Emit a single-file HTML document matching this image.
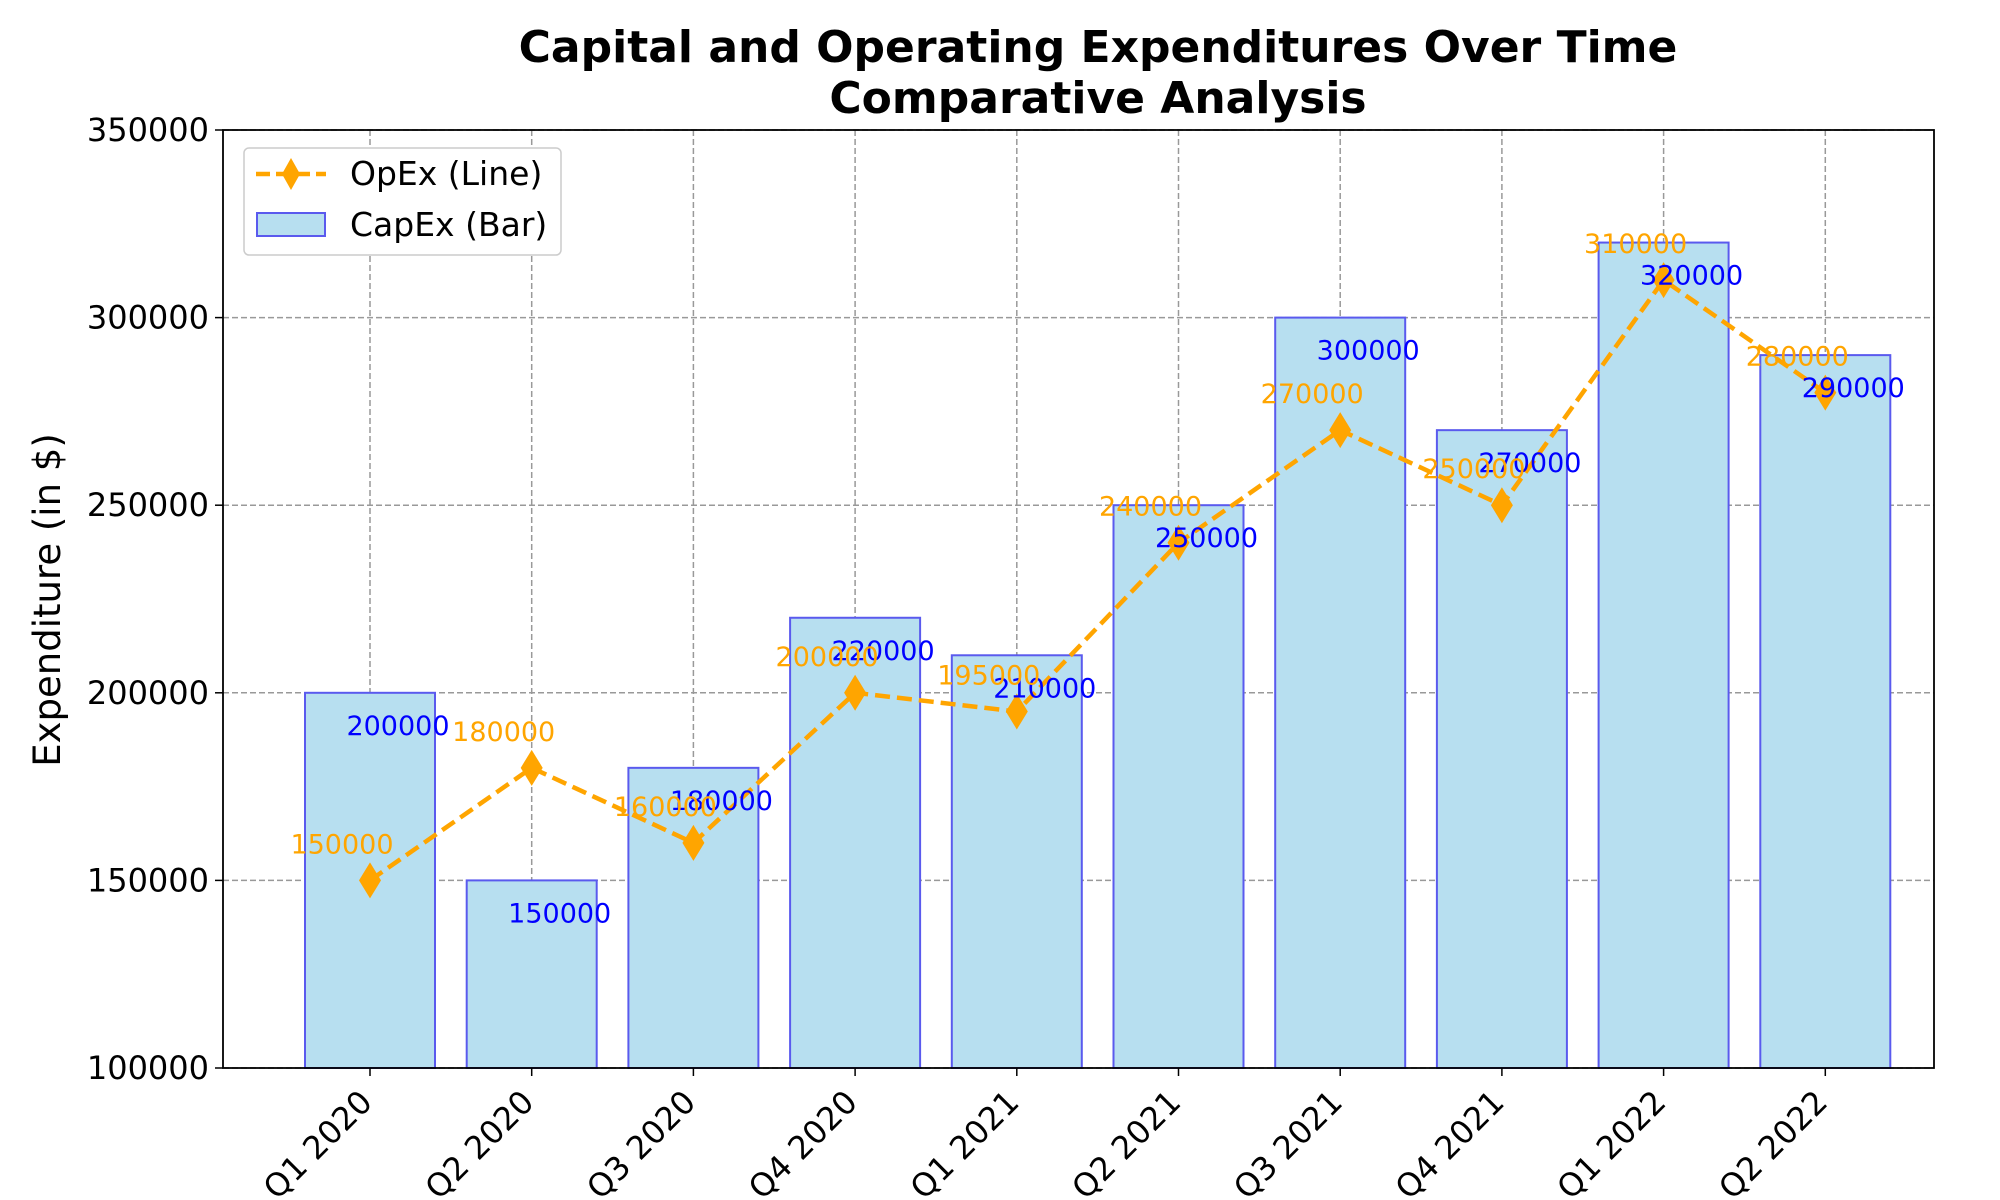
<!DOCTYPE html>
<html><head><meta charset="utf-8"><style>
html,body{margin:0;padding:0;background:#fff}
svg{display:block;font-family:"DejaVu Sans","Liberation Sans",sans-serif}
</style></head><body>
<svg id="chart" width="2000" height="1200" viewBox="0 0 2000 1200">
<text x="1098" y="62" text-anchor="middle" font-size="44" font-weight="bold">Capital and Operating Expenditures Over Time</text>
<text x="1098" y="113" text-anchor="middle" font-size="44" font-weight="bold">Comparative Analysis</text>
<text transform="translate(60,600) rotate(-90)" text-anchor="middle" font-size="37">Expenditure (in $)</text>
<g id="grid"></g><g id="bars"></g><g id="line"></g><g id="labels"></g><g id="axes"></g>
<g>
<rect x="244" y="148" width="317" height="107" rx="5" fill="#fff" stroke="#ccc" stroke-width="1.5"/>
<g>
<line x1="256" y1="174" x2="326" y2="174" stroke="orange" stroke-width="4.5" stroke-dasharray="14,6"/>
<path d="M291,158 L300,174 L291,190 L282,174 Z" fill="orange"/>
<text x="350" y="185" font-size="33">OpEx (Line)</text></g>
<g>
<rect x="257" y="213" width="68" height="23" fill="#b7dff0" stroke="#5a5aee" stroke-width="2"/>
<text x="350" y="236" font-size="33">CapEx (Bar)</text></g>
</g>
</svg>
<script>
const categories=["Q1 2020","Q2 2020","Q3 2020","Q4 2020","Q1 2021","Q2 2021","Q3 2021","Q4 2021","Q1 2022","Q2 2022"];
const capex=[200000,150000,180000,220000,210000,250000,300000,270000,320000,290000];
const opex=[150000,180000,160000,200000,195000,240000,270000,250000,310000,280000];
const yTicks=[100000,150000,200000,250000,300000,350000];
const NS="http://www.w3.org/2000/svg";
const L=223,R=1934,T=130,B=1068;
const x=i=>370+161.7*i;
const y=v=>B-(v-100000)/250000*(B-T);
function mk(tag,attrs,parent,txt){const e=document.createElementNS(NS,tag);for(const k in attrs)e.setAttribute(k,attrs[k]);if(txt!=null)e.textContent=txt;document.getElementById(parent).appendChild(e);return e;}
yTicks.forEach(v=>{
 const g=mk('line',{x1:L,x2:R,y1:y(v),y2:y(v),stroke:'#999','stroke-width':1.5,'stroke-dasharray':'6,3'},'grid');
 
 
 mk('line',{x1:L-8,x2:L,y1:y(v),y2:y(v),stroke:'#000','stroke-width':1.5},'axes');
 const t=mk('text',{x:L-14,y:y(v)+11,'text-anchor':'end','font-size':32},'axes',String(v));
 
 
});
categories.forEach((c,i)=>{
 const g=mk('line',{x1:x(i),x2:x(i),y1:T,y2:B,stroke:'#999','stroke-width':1.5,'stroke-dasharray':'6,3'},'grid');
 
 
 mk('line',{x1:x(i),x2:x(i),y1:B,y2:B+8,stroke:'#000','stroke-width':1.5},'axes');
 const t=mk('text',{transform:`translate(${x(i)+4},${B+36}) rotate(-45)`,'text-anchor':'end','font-size':32},'axes',c);
 
 
 const b=mk('rect',{x:x(i)-65,y:y(capex[i]),width:130,height:B-y(capex[i]),fill:'#b7dff0',stroke:'#5a5aee','stroke-width':2},'bars');
 
 
 const cl=mk('text',{x:x(i)+28,y:y(capex[i])+42,'text-anchor':'middle','font-size':27,fill:'blue'},'labels',String(capex[i]));
 
 
 const ol=mk('text',{x:x(i)-28,y:y(opex[i])-27,'text-anchor':'middle','font-size':27,fill:'orange'},'labels',String(opex[i]));
 
 
});
const pl=mk('polyline',{points:opex.map((v,i)=>x(i)+','+y(v)).join(' '),fill:'none',stroke:'orange','stroke-width':4.5,'stroke-dasharray':'15,7'},'line');


opex.forEach((v,i)=>{
 const m=mk('path',{d:`M${x(i)},${y(v)-18} L${x(i)+11},${y(v)} L${x(i)},${y(v)+18} L${x(i)-11},${y(v)} Z`,fill:'orange'},'line');
 
 
});
const fr=mk('rect',{x:L,y:T,width:R-L,height:B-T,fill:'none',stroke:'#000','stroke-width':1.8},'axes');


</script>
</body></html>
